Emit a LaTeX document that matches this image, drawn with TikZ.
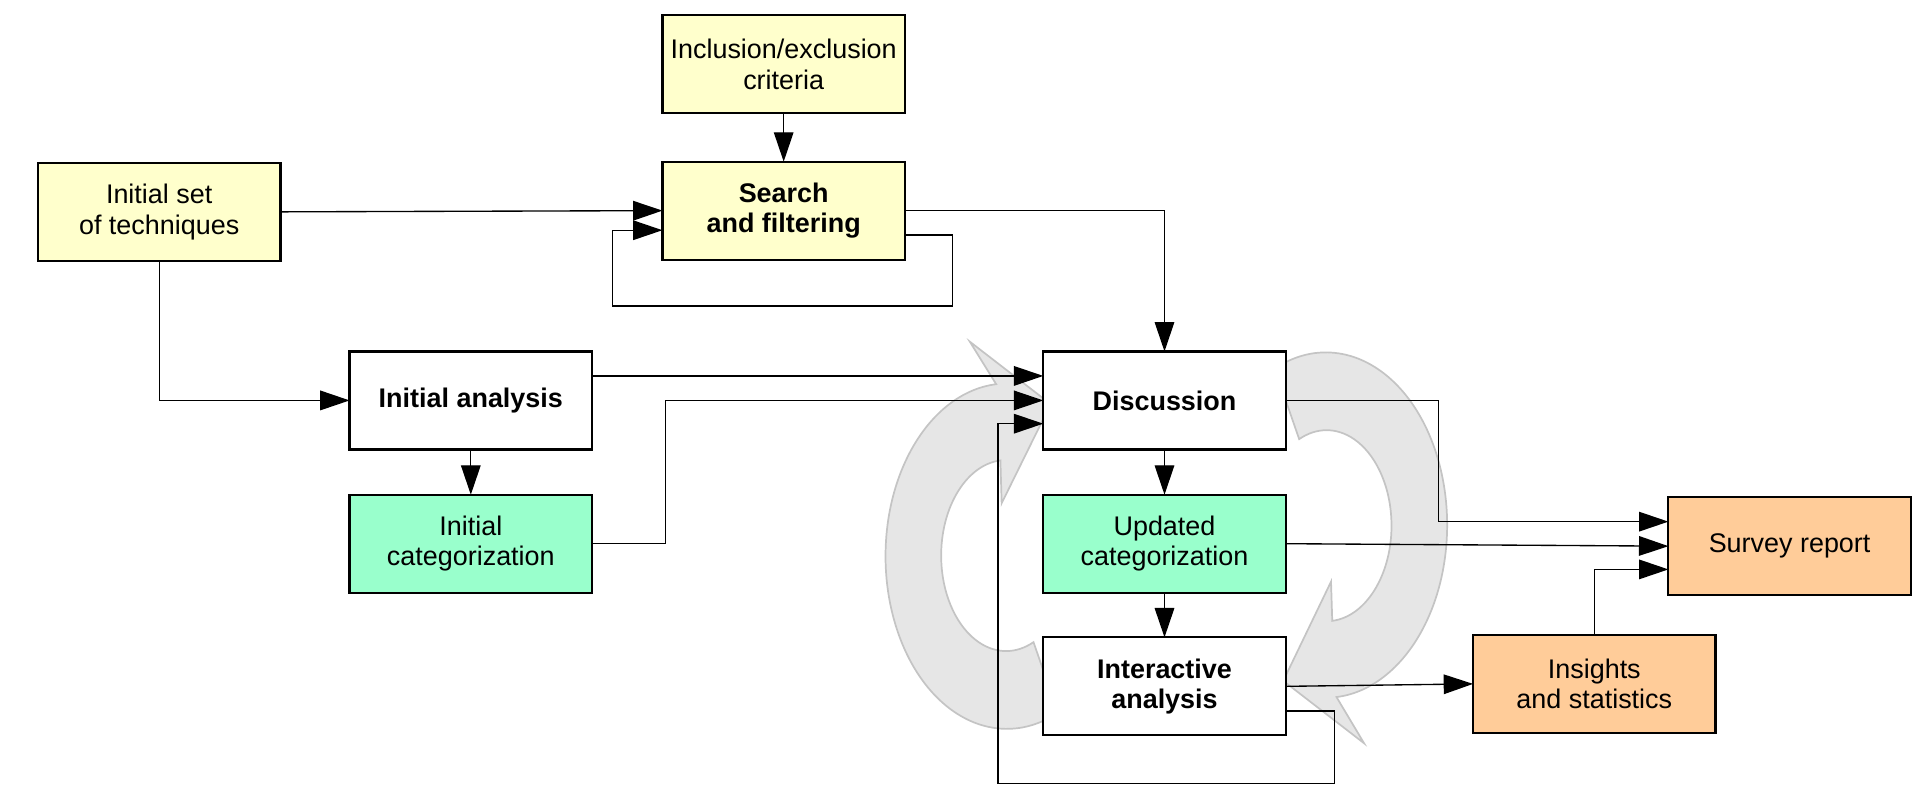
\documentclass[tikz,border=0pt]{standalone}
\usepackage{fontspec}
\setmainfont{Liberation Sans}
\usetikzlibrary{arrows.meta,calc}
\definecolor{ylw}{HTML}{FFFFCC}
\definecolor{grn}{HTML}{99FFCC}
\definecolor{org}{HTML}{FFCC99}
\definecolor{cycfill}{HTML}{E6E6E6}
\definecolor{cycline}{HTML}{C4C4C4}
\begin{document}
\begin{tikzpicture}[x=0.5pt,y=-0.5pt,
  box/.style={draw=black,line width=0.9pt,minimum width=99pt,minimum height=40pt,inner sep=0pt,outer sep=0pt,align=center,font=\fontsize{11}{12.5}\selectfont},
  bbox/.style={box,font=\fontsize{11}{12.5}\selectfont\bfseries},
  conn/.style={draw=black,line width=0.55pt,-{Triangle[length=12pt,width=8pt]}},
  line/.style={draw=black,line width=0.55pt},
  cyc/.style={fill=cycfill,draw=cycline,line width=0.7pt}]
\useasboundingbox (0,0) rectangle (1568,661);
% gray cycle arrows
\path[cyc] (864,582) arc[start angle=65,end angle=265,x radius=99,y radius=141]
  -- (792,279) -- (858,330) -- (818,411) -- (817,376)
  arc[start angle=265,end angle=65,x radius=53,y radius=78] -- cycle;
\path[cyc] (1041,301) arc[start angle=-115,end angle=85,x radius=99,y radius=141]
  -- (1114,607) -- (1048,556) -- (1087,475) -- (1088,507)
  arc[start angle=85,end angle=-115,x radius=53,y radius=78] -- cycle;
% nodes
\node[box,fill=ylw] (incl) at (640,52.5) {Inclusion/exclusion\\criteria};
\node[bbox,fill=ylw] (search) at (640,172) {Search\\and filtering};
\node[box,fill=ylw] (init) at (130,173) {Initial set\\of techniques};
\node[bbox,fill=white] (ianal) at (384.5,327) {Initial analysis};
\node[box,fill=grn] (icat) at (384.5,444) {Initial\\categorization};
\node[bbox,fill=white] (disc) at (951,327) {Discussion};
\node[box,fill=grn] (ucat) at (951,444) {Updated\\categorization};
\node[bbox,fill=white] (inter) at (951,560.5) {Interactive\\analysis};
\node[box,fill=org] (survey) at (1461.5,446) {Survey report};
\node[box,fill=org] (ins) at (1302,558.5) {Insights\\and statistics};
\coordinate (lpA) at (778,0);
\coordinate (lpB) at (500,250);
\coordinate (ilA) at (815,640);
\coordinate (ilB) at (1090,0);
% connectors
\draw[conn] (incl) -- (search);
\draw[conn] (init.east) -- (search.west);
\draw[conn] ([yshift=-10pt]search.east) -- ([yshift=-10pt]search.east -| lpA) |- (lpB) |- ([yshift=-8pt]search.west);
\draw[conn] (search.east) -| (disc.north);
\draw[conn] (init.south) |- (ianal.west);
\draw[conn] (ianal) -- (icat);
\draw[conn] ([yshift=10pt]ianal.east) -- ([yshift=10pt]disc.west);
\draw[conn] (icat.east) -- ++(60,0) |- (disc.west);
\draw[conn] ([yshift=-10pt]inter.east) -- ([yshift=-10pt]inter.east -| ilB) |- (ilA) |- ([yshift=-9.5pt]disc.west);
\draw[conn] (disc) -- (ucat);
\draw[conn] (ucat) -- (inter);
\draw[conn] (disc.east) -- ++(125,0) |- ([yshift=10pt]survey.west);
\draw[conn] (ucat.east) -- (survey.west);
\draw[conn] (ins.north) |- ([yshift=-9.5pt]survey.west);
\draw[conn] (inter.east) -- (ins.west);
\end{tikzpicture}
\end{document}
